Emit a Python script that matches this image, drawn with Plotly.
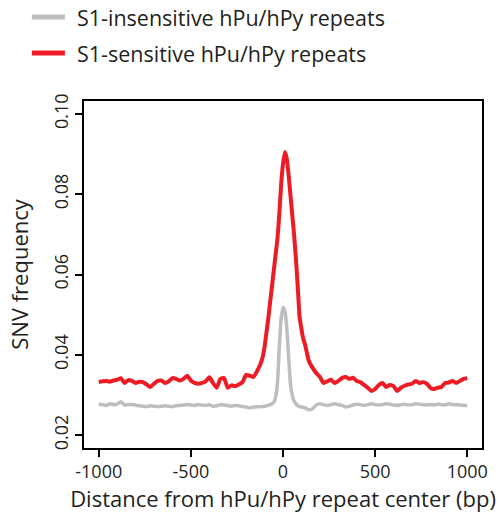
import plotly.graph_objects as go

# ---- data ----
red_x = list(range(-1000, -120, 20)) + list(range(-120, 130, 10)) + list(range(140, 1001, 20))
red_y = [
    0.0332, 0.0334, 0.0335, 0.0333, 0.0336, 0.0338, 0.0342, 0.0330, 0.0337, 0.0335,
    0.0330, 0.0333, 0.0332, 0.0326, 0.0320, 0.0328, 0.0335, 0.0336, 0.0330, 0.0334,
    0.0342, 0.0340, 0.0336, 0.0340, 0.0348, 0.0336, 0.0330, 0.0328, 0.0330, 0.0334,
    0.0344, 0.0330, 0.0318, 0.0340, 0.0342, 0.0318, 0.0324, 0.0322, 0.0326, 0.0332,
    0.0350, 0.0348, 0.0345, 0.0360,
    # -120 .. 120 step 10
    0.0380, 0.0395, 0.0420, 0.0455, 0.0490, 0.0530, 0.0570, 0.0610, 0.0650, 0.0690,
    0.0750, 0.0825, 0.0875, 0.0905, 0.0890, 0.0850, 0.0800, 0.0750, 0.0700, 0.0640,
    0.0570, 0.0495, 0.0465, 0.0440, 0.0425,
    # 140 .. 1000 step 20
    0.0385, 0.0368, 0.0355, 0.0345, 0.0330, 0.0334, 0.0338, 0.0330, 0.0335, 0.0342,
    0.0345, 0.0340, 0.0343, 0.0335, 0.0332, 0.0325, 0.0318, 0.0310, 0.0315, 0.0325,
    0.0330, 0.0320, 0.0325, 0.0322, 0.0310, 0.0318, 0.0323, 0.0326, 0.0328, 0.0335,
    0.0330, 0.0332, 0.0328, 0.0318, 0.0315, 0.0318, 0.0320, 0.0330, 0.0331, 0.0335,
    0.0330, 0.0335, 0.0340, 0.0342,
]

gray_x = list(range(-1000, -60, 20)) + list(range(-60, 90, 10)) + list(range(100, 1001, 20))
gray_y = [
    0.0277, 0.0276, 0.0274, 0.0278, 0.0276, 0.0277, 0.0283, 0.0275, 0.0276, 0.0276,
    0.0275, 0.0273, 0.0272, 0.0271, 0.0273, 0.0272, 0.0271, 0.0272, 0.0273, 0.0272,
    0.0271, 0.0273, 0.0274, 0.0275, 0.0276, 0.0275, 0.0274, 0.0276, 0.0275, 0.0274,
    0.0276, 0.0272, 0.0273, 0.0276, 0.0275, 0.0274, 0.0272, 0.0274, 0.0273, 0.0271,
    0.0270, 0.0268, 0.0270, 0.0271, 0.0271, 0.0272, 0.0274,
    # -60 .. 80 step 10
    0.0278, 0.0282, 0.0295, 0.0330, 0.0420, 0.0490, 0.0518, 0.0510, 0.0470, 0.0400,
    0.0330, 0.0300, 0.0285, 0.0278, 0.0273,
    # 100 .. 1000 step 20
    0.0270, 0.0268, 0.0263, 0.0266, 0.0275, 0.0278, 0.0276, 0.0274, 0.0276, 0.0278,
    0.0276, 0.0274, 0.0270, 0.0272, 0.0275, 0.0277, 0.0276, 0.0274, 0.0276, 0.0278,
    0.0276, 0.0275, 0.0276, 0.0278, 0.0277, 0.0275, 0.0274, 0.0276, 0.0277, 0.0275,
    0.0276, 0.0278, 0.0277, 0.0276, 0.0275, 0.0276, 0.0275, 0.0277, 0.0276, 0.0275,
    0.0278, 0.0276, 0.0276, 0.0275, 0.0274, 0.0274,
]

series_names = ["S1-insensitive hPu/hPy repeats", "S1-sensitive hPu/hPy repeats"]
series_colors = ["#BCBEC0", "#ED1C24"]

x_ticks = [-1000, -500, 0, 500, 1000]
x_tick_text = ["-1000", "-500", "0", "500", "1000"]
y_ticks = [0.02, 0.04, 0.06, 0.08, 0.10]
y_tick_text = ["0.02", "0.04", "0.06", "0.08", "0.10"]

FONT = "Open Sans"

fig = go.Figure()
fig.add_trace(go.Scatter(
    x=gray_x, y=gray_y, mode="lines", name=series_names[0],
    line=dict(color=series_colors[0], width=3.5, shape="spline", smoothing=0.5)))
fig.add_trace(go.Scatter(
    x=red_x, y=red_y, mode="lines", name=series_names[1],
    line=dict(color=series_colors[1], width=4, shape="spline", smoothing=0.5)))

# legend drawn in paper coordinates above the plot box (outside the axes)
legend_rows_y = [1.242, 1.138]
for name, color, ly in zip(series_names, series_colors, legend_rows_y):
    fig.add_shape(type="line", xref="paper", yref="paper",
                  x0=-0.131, x1=-0.048, y0=ly, y1=ly,
                  line=dict(color=color, width=5))
    fig.add_annotation(xref="paper", yref="paper", x=-0.023, y=ly,
                       xanchor="left", yanchor="middle", showarrow=False,
                       text=name, font=dict(family=FONT, size=21.5, color="#231F20"))

fig.update_layout(
    width=500, height=519,
    margin=dict(l=84, r=18, t=101, b=71),
    paper_bgcolor="white", plot_bgcolor="white",
    font=dict(family=FONT, size=18, color="#231F20"),
    showlegend=False,
    xaxis=dict(
        range=[-1080, 1080], tickvals=x_ticks, ticktext=x_tick_text,
        ticks="outside", ticklen=7,
        tickwidth=1.5, tickcolor="black", showline=True, linewidth=1.5,
        linecolor="black", mirror=True, showgrid=False, zeroline=False,
        title=dict(text="Distance from hPu/hPy repeat center (bp)", standoff=4),
        tickfont=dict(size=18),
    ),
    yaxis=dict(
        range=[0.0168, 0.1032], tickvals=y_ticks, ticktext=y_tick_text,
        tickangle=-90, ticks="outside", ticklen=7, tickwidth=1.5,
        tickcolor="black", showline=True, linewidth=1.5, linecolor="black",
        mirror=True, showgrid=False, zeroline=False,
        title=dict(text="SNV frequency", standoff=14),
        tickfont=dict(size=18),
    ),
)

fig.write_html("out.html")
